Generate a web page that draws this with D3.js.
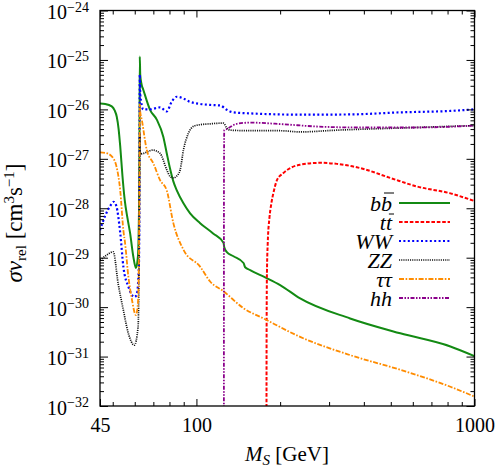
<!DOCTYPE html>
<html lang="en">
<head>
<meta charset="UTF-8">
<title>sigma v vs M_S</title>
<script src="https://d3js.org/d3.v7.min.js"></script>
<style>
  body { margin: 0; background: #fff; }
  .tick line { stroke: #000; stroke-width: 1; }
  .domain { display: none; }
  .curve { fill: none; }
</style>
</head>
<body>
<svg width="499" height="467" font-family="Liberation Serif"></svg>
<script>
// [M_S in GeV, sigma v in cm^3 s^-1]
const bb = [[45,1.32e-26],[47,1.29e-26],[49.6,1.15e-26],[50.8,9.5e-27],[51.7,7.1e-27],[52.5,4.0e-27],
  [53.2,1.8e-27],[54.2,4.5e-28],[55.2,1.5e-28],[56.5,6.3e-29],[57.7,3.2e-29],[59.3,1.05e-29],[60.6,6.2e-30],
  [61.6,1.05e-29],[62.1,6.3e-29],[62.4,1.6e-27],[62.55,1.17e-25],[62.8,5.0e-26],[63.5,3.2e-26],[64.4,2.5e-26],
  [68.1,9.8e-27],[72,6.2e-27],[76,2.8e-27],[78.2,1.3e-27],[80.4,6.3e-28],[82.6,3.5e-28],[85,2.3e-28],
  [89.8,1.26e-28],[94.9,7.9e-29],[103.1,5.0e-29],[114.8,3.1e-29],[125.1,2.0e-29],[126,1.6e-29],[128.6,1.3e-29],
  [135.9,1.07e-29],[147.7,7.8e-30],[149.7,6.4e-30],[156,5.6e-30],[176.7,4.0e-30],[200,2.8e-30],[236,1.5e-30],
  [357,5.9e-31],[541,2.95e-31],[819,1.6e-31],[1000,1.02e-31]];
const tt = [[178.5,1e-34],[178.8,3.2e-31],[179.3,5.0e-30],[180.5,2.0e-29],[183,6.3e-29],[186,1.26e-28],
  [189,2.0e-28],[194.8,3.7e-28],[205,5.1e-28],[236,7.6e-28],[279,8.3e-28],[320,7.9e-28],[388,6.5e-28],
  [498,4.1e-28],[622,2.75e-28],[819,2.0e-28],[1000,1.4e-28]];
const ww = [[45,3.6e-29],[47,7.1e-29],[49,1.12e-28],[50.4,1.35e-28],[51.5,1.12e-28],[53.2,3.2e-29],
  [54.6,6.6e-30],[56.9,2.6e-30],[59.8,1.6e-30],[61,1.8e-30],[62.1,6.6e-30],[62.4,3.2e-28],[62.55,5.0e-26],
  [62.8,2.0e-26],[64.4,1.0e-26],[68.1,1.0e-26],[74,1.1e-26],[78.2,9.1e-27],[81.6,1.45e-26],[85,1.8e-26],
  [89.8,1.66e-26],[94,1.45e-26],[103,1.29e-26],[112,1.23e-26],[121.7,1.2e-26],[128.6,9.8e-27],[135.9,8.7e-27],
  [156,8.3e-27],[200,7.9e-27],[236,7.8e-27],[357,7.9e-27],[541,8.7e-27],[819,9.3e-27],[1000,1.0e-26]];
const zz = [[45,8.9e-30],[47.5,1.12e-29],[50.2,1.32e-29],[52.3,3.0e-30],[54.6,8.7e-31],[56.9,2.95e-31],
  [59.8,1.7e-31],[61.7,4.0e-31],[62.2,1.0e-29],[62.45,3.2e-28],[62.55,3.2e-27],[62.8,1.26e-27],[64.4,1.29e-27],
  [69.6,1.5e-27],[74,1.29e-27],[78.2,6.0e-28],[80.4,4.4e-28],[82.6,4.1e-28],[85,4.5e-28],[87.4,6.0e-28],
  [89.8,1.5e-27],[93.6,3.3e-27],[98,4.6e-27],[103,4.9e-27],[112,5.1e-27],[121.7,5.25e-27],[125.1,5.25e-27],
  [128.6,4.2e-27],[132.2,3.8e-27],[156,3.7e-27],[200,3.7e-27],[236,3.5e-27],[320,3.8e-27],[541,4.2e-27],
  [1000,4.7e-27]];
const tau = [[45,1.35e-27],[47,1.32e-27],[49.6,1.12e-27],[51.6,6.9e-28],[53.2,2.3e-28],[54.6,3.6e-29],
  [55.4,1.95e-29],[56.9,4.2e-30],[58.4,1.6e-30],[60.6,6.9e-31],[61.7,1.38e-30],[62.2,3.2e-29],[62.45,1.0e-27],
  [62.55,1.26e-26],[62.8,8.9e-27],[63.6,6.2e-27],[66.3,1.5e-27],[70,8.1e-28],[74,3.7e-28],[78.2,2.3e-28],
  [82.6,5.0e-29],[89.8,1.45e-29],[103.1,6.6e-30],[112,3.3e-30],[125.1,2.1e-30],[147.7,9.5e-31],[174.3,5.9e-31],
  [236,2.5e-31],[357,1.07e-31],[541,5.4e-32],[819,2.45e-32],[1000,1.55e-32]];
const hh = [[125.5,1e-34],[125.6,3.2e-28],[125.9,3.8e-27],[128.6,4.0e-27],[132.2,4.4e-27],[139.7,5.1e-27],
  [156,5.4e-27],[205,5.0e-27],[271,4.5e-27],[388,4.3e-27],[622,4.3e-27],[1000,4.7e-27]];

const xMajor = [45, 100, 1000];
const xMinor = [50, 60, 70, 80, 90, 200, 300, 400, 500, 600, 700, 800, 900];
const yExponents = [-24, -25, -26, -27, -28, -29, -30, -31, -32];
const legendLabels = ["bb", "tt", "WW", "ZZ", "ττ", "hh"];
const legendBarred = [true, true, false, false, false, false];

const series = [
  { data: bb, color: "#138a13", width: 2, dash: null },
  { data: tt, color: "#ff0000", width: 2, dash: "3.6,1.8" },
  { data: ww, color: "#0000ff", width: 2.2, dash: "2,2.4" },
  { data: zz, color: "#111111", width: 1.7, dash: "1.1,1.1" },
  { data: tau, color: "#ff8c00", width: 1.8, dash: "5,1.6,1.6,1.6" },
  { data: hh, color: "#8b008b", width: 1.8, dash: "4,1.5,1.5,1.5,1.5,1.5" }
];

const FONT = "Liberation Serif";
const svg = d3.select("svg");
const pL = 100, pR = 474.5, pT = 10.5, pB = 406;

const x = d3.scaleLog().domain([45, 1000]).range([pL, pR]);
const y = d3.scaleLog().domain([1e-32, 1e-24]).range([pB, pT]);

svg.append("clipPath").attr("id", "plot")
  .append("rect").attr("x", pL).attr("y", pT)
  .attr("width", pR - pL).attr("height", pB - pT);

const line = d3.line()
  .x(d => x(d[0]))
  .y(d => y(d[1]))
  .curve(d3.curveMonotoneX);

const curves = svg.append("g").attr("clip-path", "url(#plot)");
series.forEach(s => {
  curves.append("path")
    .attr("class", "curve")
    .attr("d", line(s.data))
    .attr("stroke", s.color)
    .attr("stroke-width", s.width)
    .attr("stroke-dasharray", s.dash);
});

// axes, ticks point inward
const yMinor = [];
yExponents.slice(1).forEach(e => {
  for (let m = 2; m <= 9; m++) yMinor.push(m * Math.pow(10, e));
});
const yMajor = yExponents.map(e => Math.pow(10, e));

function addAxis(axis, tx, ty) {
  return svg.append("g").attr("transform", `translate(${tx},${ty})`).call(axis);
}

const bottomAxis = addAxis(d3.axisBottom(x).tickValues(xMajor).tickSize(-7).tickPadding(12)
  .tickFormat(d3.format("d")), 0, pB);
bottomAxis.attr("font-family", FONT).attr("font-size", 20);
bottomAxis.selectAll("text").attr("font-family", FONT).attr("font-size", 20);
addAxis(d3.axisBottom(x).tickValues(xMinor).tickSize(-4).tickFormat(""), 0, pB);
addAxis(d3.axisTop(x).tickValues(xMajor).tickSize(-7).tickFormat(""), 0, pT);
addAxis(d3.axisTop(x).tickValues(xMinor).tickSize(-4).tickFormat(""), 0, pT);

const leftAxis = addAxis(d3.axisLeft(y).tickValues(yMajor).tickSize(-8).tickFormat(""), pL, 0);
addAxis(d3.axisLeft(y).tickValues(yMinor).tickSize(-4).tickFormat(""), pL, 0);
addAxis(d3.axisRight(y).tickValues(yMajor).tickSize(-8).tickFormat(""), pR, 0);
addAxis(d3.axisRight(y).tickValues(yMinor).tickSize(-4).tickFormat(""), pR, 0);

leftAxis.selectAll(".tick").each(function(d) {
  const t = d3.select(this).append("text")
    .attr("x", -11).attr("y", 8)
    .attr("text-anchor", "end")
    .attr("fill", "#000")
    .attr("font-family", FONT)
    .attr("font-size", 20);
  t.append("tspan").text("10");
  t.append("tspan").attr("dy", -7.5).attr("font-size", 14)
    .text("\u2212" + Math.round(-Math.log10(d)));
});

svg.append("rect")
  .attr("x", pL).attr("y", pT)
  .attr("width", pR - pL).attr("height", pB - pT)
  .attr("fill", "none").attr("stroke", "#000").attr("stroke-width", 1.3);

// axis titles
const xt = svg.append("text")
  .attr("x", 287).attr("y", 461)
  .attr("text-anchor", "middle")
  .attr("font-family", FONT).attr("font-size", 21);
xt.append("tspan").attr("font-style", "italic").text("M");
xt.append("tspan").attr("font-style", "italic").attr("font-size", 15).attr("dy", 4).text("S");
xt.append("tspan").attr("dy", -4).text(" [GeV]");

const yt = svg.append("text")
  .attr("transform", "translate(22,223) rotate(-90)")
  .attr("text-anchor", "middle")
  .attr("font-family", FONT).attr("font-size", 23);
yt.append("tspan").attr("font-style", "italic").text("σv");
yt.append("tspan").attr("font-size", 15).attr("dy", 4).text("rel");
yt.append("tspan").attr("dy", -4).text(" [cm");
yt.append("tspan").attr("font-size", 15).attr("dy", -8).text("3");
yt.append("tspan").attr("dy", 8).text("s");
yt.append("tspan").attr("font-size", 15).attr("dy", -8).text("\u22121");
yt.append("tspan").attr("dy", 8).text("]");

// legend
const legend = svg.append("g");
series.forEach((s, i) => {
  const ly = 203 + i * 19;
  const txt = legend.append("text")
    .attr("x", 392).attr("y", ly + 7.5)
    .attr("text-anchor", "end")
    .attr("font-family", FONT).attr("font-size", 22).attr("font-style", "italic")
    .text(legendLabels[i]);
  if (legendBarred[i]) {
    const ext = txt.node().getExtentOfChar(1);
    const by = i === 0 ? ly - 10 : ly - 8;
    legend.append("line")
      .attr("x1", ext.x + 3).attr("x2", ext.x + ext.width + 2)
      .attr("y1", by).attr("y2", by)
      .attr("stroke", "#000").attr("stroke-width", 1);
  }
  legend.append("line")
    .attr("x1", 399).attr("x2", 450)
    .attr("y1", ly).attr("y2", ly)
    .attr("stroke", s.color)
    .attr("stroke-width", s.width)
    .attr("stroke-dasharray", s.dash);
});
</script>
</body>
</html>
